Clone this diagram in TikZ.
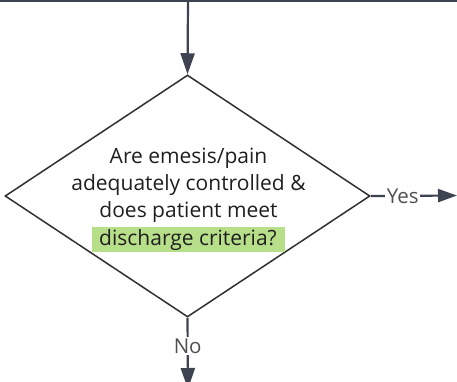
\documentclass[tikz,border=0pt]{standalone}
\usepackage{fontspec}
\setmainfont{Open Sans}
\usetikzlibrary{shapes.geometric,arrows.meta}

\definecolor{linegray}{HTML}{3D4350}
\definecolor{edgegray}{HTML}{303030}
\definecolor{labelgray}{HTML}{505050}
\definecolor{hlgreen}{HTML}{B7DF8A}

\tikzset{
    flow/.style={draw=linegray, line width=2.2pt},
    decision/.style={shape=diamond, draw=edgegray, line width=1.5pt,
        minimum width=365pt, minimum height=242pt, inner sep=0pt},
    qtext/.style={align=center, text=black!88,
        font=\fontsize{21}{27.3}\selectfont},
    answer/.style={fill=white, inner sep=1.5pt, text=labelgray,
        font=\fontsize{20.5}{22}\selectfont}
}

\begin{document}
\begin{tikzpicture}[x=1pt,y=-1pt]
    \useasboundingbox (0,0) rectangle (457,381);

    % The decision
    \node[decision] (dec) at (187.5,196) {};
    \node[qtext] (question) at (188.5,200) {Are emesis/pain\\
        adequately controlled \&\\
        does patient meet\\
        {\setlength{\fboxsep}{2.2pt}\colorbox{hlgreen}{\hspace{5pt}discharge criteria?\hspace{6pt}}}};

    % The line coming in from above
    \coordinate (topleft) at (0,1.2);
    \coordinate (topright) at (457,1.2);
    \coordinate (drop) at (188,1.2);
    \draw[flow] (topleft) -- (topright);
    \draw[flow, -{Triangle[length=21pt,width=14pt]}] (drop) -- (dec.north);

    % Yes / No
    \coordinate (yesend) at (457,195.5);
    \coordinate (noend) at (188,389);
    \draw[flow, -{Triangle[length=19pt,width=13pt]}] (dec.east) --
        node[answer, pos=0.37] (yes) {Yes} (yesend);
    \draw[flow, -{Triangle[length=21pt,width=14pt]}] (dec.south) --
        node[answer, pos=0.40] (no) {No} (noend);
\end{tikzpicture}
\end{document}
